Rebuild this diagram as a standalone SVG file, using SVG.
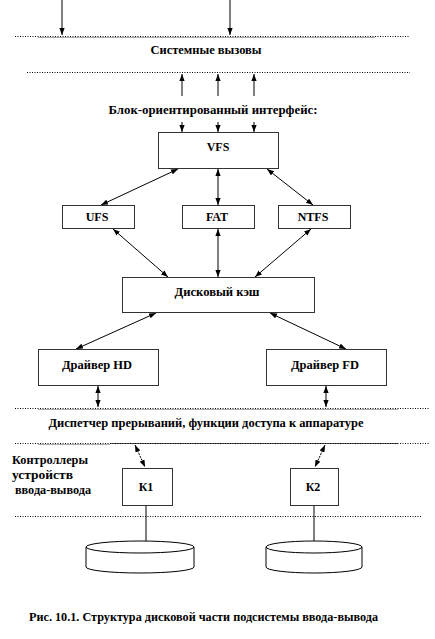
<svg xmlns="http://www.w3.org/2000/svg" width="435" height="639" viewBox="0 0 435 639">
<style>
text{font-family:"Liberation Serif","Times New Roman",serif;font-weight:bold;font-size:12px;fill:#000}
.c{text-anchor:middle}
.box{fill:#fff;stroke:#333;stroke-width:1}
.dot{stroke:#000;stroke-width:1;stroke-dasharray:1 1.5;fill:none}
.gray{stroke:#aaa;stroke-width:1}
.ar{stroke:#000;stroke-width:1;fill:none}
.disk{fill:#fff;stroke:#000;stroke-width:1}
</style>
<defs>
<marker id="ah" viewBox="0 0 8 6" refX="8" refY="3" markerWidth="7" markerHeight="5.5" markerUnits="userSpaceOnUse" orient="auto-start-reverse">
<path d="M0,0 L8,3 L0,6 Z" fill="#000"/>
</marker>
</defs>
<g id="layers">
<line class="gray" x1="38" y1="37.5" x2="375" y2="37.5"/>
<line class="dot" x1="15" y1="36.5" x2="410" y2="36.5"/>
<line class="dot" x1="27" y1="72.5" x2="410" y2="72.5"/>
<line class="gray" x1="38" y1="409.5" x2="398" y2="409.5"/>
<line class="dot" x1="15" y1="408.5" x2="430" y2="408.5"/>
<line class="gray" x1="38" y1="444.5" x2="110" y2="444.5"/>
<line stroke="#555" stroke-width="1" x1="110" y1="443.5" x2="398" y2="443.5"/>
<line class="dot" x1="15" y1="443.5" x2="430" y2="443.5"/>
<line class="dot" x1="15" y1="516.5" x2="422" y2="516.5"/>
<text class="c" x="206" y="54" textLength="111" lengthAdjust="spacingAndGlyphs">Системные вызовы</text>
<text class="c" x="213" y="114" textLength="209" lengthAdjust="spacingAndGlyphs">Блок-ориентированный интерфейс:</text>
<text class="c" x="206" y="427" textLength="315" lengthAdjust="spacingAndGlyphs">Диспетчер прерываний, функции доступа к аппаратуре</text>
<text x="12" y="464" textLength="76" lengthAdjust="spacingAndGlyphs">Контроллеры</text>
<text x="12" y="479" textLength="61" lengthAdjust="spacingAndGlyphs">устройств</text>
<text x="15" y="494" textLength="76" lengthAdjust="spacingAndGlyphs">ввода-вывода</text>
</g>
<g id="connectors">
<line class="ar" x1="62" y1="0" x2="62" y2="35" marker-end="url(#ah)"/>
<line class="ar" x1="230" y1="0" x2="230" y2="35" marker-end="url(#ah)"/>
<line class="ar" x1="182" y1="96" x2="182" y2="74" marker-end="url(#ah)"/>
<line class="ar" x1="218" y1="96" x2="218" y2="74" marker-end="url(#ah)"/>
<line class="ar" x1="254" y1="96" x2="254" y2="74" marker-end="url(#ah)"/>
<line class="ar" x1="182" y1="122" x2="182" y2="132" marker-end="url(#ah)"/>
<line class="ar" x1="218" y1="122" x2="218" y2="132" marker-end="url(#ah)"/>
<line class="ar" x1="254" y1="122" x2="254" y2="132" marker-end="url(#ah)"/>
<line class="ar" x1="178" y1="169" x2="101" y2="205" marker-start="url(#ah)" marker-end="url(#ah)"/>
<line class="ar" x1="218" y1="169" x2="218" y2="205" marker-start="url(#ah)" marker-end="url(#ah)"/>
<line class="ar" x1="267" y1="169" x2="313" y2="205" marker-start="url(#ah)" marker-end="url(#ah)"/>
<line class="ar" x1="113" y1="229" x2="168" y2="277" marker-start="url(#ah)" marker-end="url(#ah)"/>
<line class="ar" x1="218" y1="229" x2="218" y2="277" marker-start="url(#ah)" marker-end="url(#ah)"/>
<line class="ar" x1="311" y1="229" x2="255" y2="277" marker-start="url(#ah)" marker-end="url(#ah)"/>
<line class="ar" x1="156" y1="313" x2="76" y2="349" marker-start="url(#ah)" marker-end="url(#ah)"/>
<line class="ar" x1="270" y1="313" x2="346" y2="349" marker-start="url(#ah)" marker-end="url(#ah)"/>
<line class="ar" x1="98" y1="386" x2="98" y2="407" marker-start="url(#ah)" marker-end="url(#ah)"/>
<line class="ar" x1="326" y1="386" x2="326" y2="407" marker-start="url(#ah)" marker-end="url(#ah)"/>
<line class="ar" x1="135" y1="445" x2="145" y2="467" marker-start="url(#ah)" marker-end="url(#ah)" stroke-dasharray="2 1"/>
<line class="ar" x1="325" y1="445" x2="315" y2="467" marker-start="url(#ah)" marker-end="url(#ah)" stroke-dasharray="2 1"/>
<line class="ar" x1="146" y1="505" x2="146" y2="541"/>
<line class="ar" x1="314" y1="505" x2="314" y2="541"/>
</g>
<g id="vfs"><rect class="box" x="158.5" y="132.5" width="120" height="36"/><text class="c" x="218" y="151">VFS</text></g>
<g id="ufs"><rect class="box" x="62.5" y="205.5" width="72" height="23"/><text class="c" x="97" y="221">UFS</text></g>
<g id="fat"><rect class="box" x="182.5" y="205.5" width="72" height="23"/><text class="c" x="217" y="221">FAT</text></g>
<g id="ntfs"><rect class="box" x="278.5" y="205.5" width="72" height="23"/><text class="c" x="313" y="221">NTFS</text></g>
<g id="cache"><rect class="box" x="122.5" y="277.5" width="192" height="35"/><text class="c" x="217" y="296" textLength="85" lengthAdjust="spacingAndGlyphs">Дисковый кэш</text></g>
<g id="hd"><rect class="box" x="38.5" y="349.5" width="120" height="36"/><text class="c" x="97" y="369" textLength="70" lengthAdjust="spacingAndGlyphs">Драйвер HD</text></g>
<g id="fd"><rect class="box" x="266.5" y="349.5" width="120" height="36"/><text class="c" x="325" y="369" textLength="68" lengthAdjust="spacingAndGlyphs">Драйвер FD</text></g>
<g id="k1"><rect class="box" x="122.5" y="468.5" width="50" height="37"/><text class="c" x="146" y="491">К1</text></g>
<g id="k2"><rect class="box" x="290.5" y="468.5" width="48" height="37"/><text class="c" x="313" y="491">К2</text></g>
<g id="disk1">
<path class="disk" d="M86,547 L86,567 A54,6 0 0 0 194,567 L194,547"/>
<ellipse class="disk" cx="140" cy="547" rx="54" ry="6"/>
</g>
<g id="disk2">
<path class="disk" d="M266,547 L266,567 A48,6 0 0 0 362,567 L362,547"/>
<ellipse class="disk" cx="314" cy="547" rx="48" ry="6"/>
</g>
<text x="29" y="621" font-size="11" textLength="349" lengthAdjust="spacingAndGlyphs">Рис. 10.1. Структура дисковой части подсистемы ввода-вывода</text>
</svg>
